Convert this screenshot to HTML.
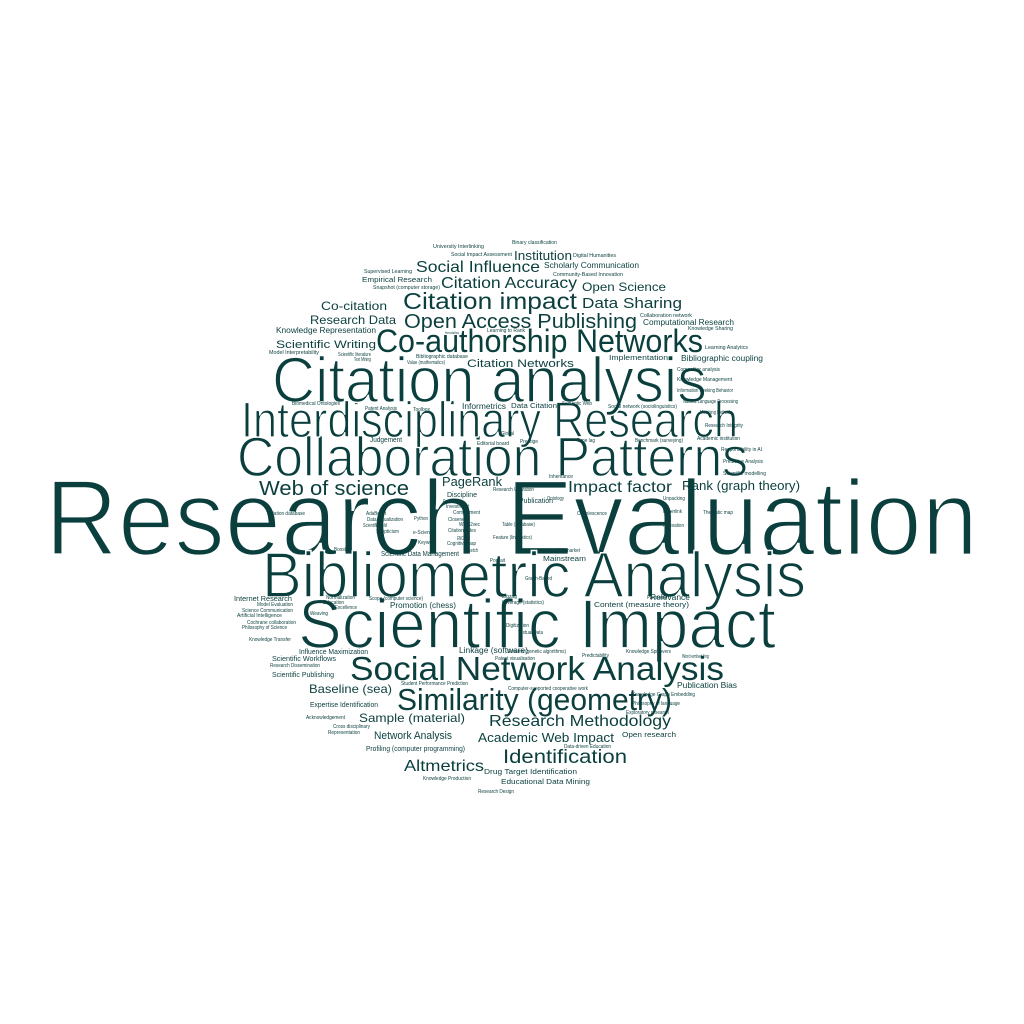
<!DOCTYPE html>
<html><head><meta charset="utf-8"><style>
html,body{margin:0;padding:0;background:#fff;}
svg{display:block;}
text{font-family:"Liberation Sans",sans-serif;fill:#0b3f3e;}
</style></head><body>
<svg id="cloud" width="1024" height="1024" viewBox="0 0 1024 1024"></svg>
<script>
const words = [
["Research Evaluation",45,555,108,933],
["Scientific Impact",298,648,70,478],
["Bibliometric Analysis",262,597,64,544],
["Collaboration Patterns",237,476,56,511],
["Interdisciplinary Research",241,437,50,497],
["Citation analysis",272,402,64,435],
["Co-authorship Networks",376,352,32,327],
["Social Network Analysis",350,680,33,374],
["Similarity (geometry)",397,710,31,275],
["Web of science",259,495,20,150],
["Impact factor",568,492,16,104],
["Rank (graph theory)",682,490,13,118],
["PageRank",442,486,13,60],
["Citation impact",403,309,23,174],
["Open Access Publishing",404,328,20,233],
["Citation Accuracy",441,288,16,136],
["Social Influence",416,272,16,124],
["Institution",514,260,13,58],
["Scholarly Communication",544,268,8,95],
["Open Science",582,291,12,84],
["Data Sharing",582,308,15,100],
["Co-citation",321,310,12,66],
["Research Data",310,324,12,86],
["Knowledge Representation",276,333,8,100],
["Scientific Writing",276,348,11,100],
["Computational Research",643,325,8,91],
["Citation Networks",467,367,11,107],
["Implementation",609,360,7.5,59],
["Bibliographic coupling",681,361,8,82],
["Empirical Research",362,282,7.5,70],
["Informetrics",462,409,8,44],
["Data Citation",511,408,7,46],
["Judgement",370,442,7,32],
["Discipline",447,497,7,30],
["Publication",519,503,7,34],
["Scientific Data Management",381,556,7,78],
["Mainstream",543,561,7,43],
["Internet Research",234,601,7,58],
["Relevance",650,600,8,40],
["Promotion (chess)",390,608,8,66],
["Content (measure theory)",594,607,7.5,95],
["Influence Maximization",299,654,7,69],
["Linkage (software)",459,653,8,69],
["Scientific Workflows",272,661,7.5,64],
["Scientific Publishing",272,677,7,62],
["Baseline (sea)",309,693,12,83],
["Publication Bias",677,688,8,60],
["Expertise Identification",310,707,7,68],
["Sample (material)",359,722,12,106],
["Research Methodology",489,726,16,182],
["Network Analysis",374,739,11,78],
["Academic Web Impact",478,742,13,136],
["Open research",622,737,7.5,54],
["Profiling (computer programming)",366,751,7.5,99],
["Identification",503,763,19,124],
["Altmetrics",404,771,16,80],
["Drug Target Identification",484,774,7.5,93],
["Educational Data Mining",501,784,7.5,89],
["University Interlinking",433,248,5,51],
["Binary classification",512,244,5,45],
["Social Impact Assessment",451,256,5,61],
["Digital Humanities",573,257,5,43],
["Supervised Learning",364,273,5,48],
["Community-Based Innovation",553,276,5,70],
["Snapshot (computer storage)",373,289,5,67],
["Collaboration network",640,317,5,52],
["Knowledge Sharing",688,330,5,45],
["Heuristics",445,334,4,14],
["Learning to Rank",487,332,5,38],
["Model Interpretability",269,354,5,50],
["Scientific literature",338,356,5,33],
["Text Mining",354,361,5,17],
["Bibliographic database",416,358,5,52],
["Value (mathematics)",407,364,5,38],
["Learning Analytics",705,349,5,43],
["Competitor analysis",677,371,5,43],
["Knowledge Management",677,381,5,55],
["Information Seeking Behavior",677,392,5,56],
["Natural Language Processing",683,403,5,55],
["Matching Methods",700,414,5,32],
["Research Integrity",705,427,5,38],
["Academic institution",697,440,5,43],
["Responsibility in AI",721,451,5,41],
["Predictive Analysis",723,463,5,40],
["Scientific modelling",723,475,5,43],
["Biomedical Ontologies",292,405,5,48],
["Patent Analysis",365,410,5,32],
["Toolbox",413,411,5,17],
["Semantic Web",562,405,5,30],
["Social network (sociolinguistics)",608,408,5,69],
["Global",501,435,5,13],
["Editorial board",477,445,5,32],
["Prestige",520,443,5,18],
["Time lag",577,442,5,18],
["Benchmark (surveying)",635,442,5,48],
["Inheritance",549,478,5,24],
["Research Utilization",493,491,5,41],
["Realm",443,503,5,10],
["Investment",446,508,5,23],
["Complement",453,514,5,27],
["Citation database",268,515,5,37],
["AdaBoost",366,515,5,20],
["Data Visualization",367,521,5,36],
["Scientific field",363,527,5,24],
["Skepticism",376,533,5,23],
["Python",414,520,5,14],
["Closeness",448,521,5,21],
["Word2vec",459,526,5,21],
["e-Science",413,534,5,22],
["Citation index",448,532,5,28],
["ENCODE",457,540,5,13],
["Keyword",418,544,5,18],
["Cognitive map",447,545,5,29],
["Table (database)",502,526,5,33],
["Feature (linguistics)",493,539,5,39],
["Ontology",547,500,5,17],
["Obsolescence",577,515,5,30],
["Unpacking",663,500,5,22],
["Hyperlink",663,513,5,19],
["Thematic map",703,514,5,30],
["Indexation",663,527,5,21],
["Boosting",334,551,5,18],
["Sketch",466,552,5,12],
["Job market",557,552,5,23],
["Portrait",490,562,5,15],
["Graph-Based",525,580,5,27],
["Normalization",326,599,5,29],
["Education",323,604,5,21],
["Excellence",335,609,5,22],
["Scope (computer science)",369,600,5,54],
["Model Evaluation",257,606,5,36],
["Science Communication",242,612,5,51],
["Artificial Intelligence",237,617,5,45],
["Weaving",310,615,5,18],
["Cochrane collaboration",247,624,5,49],
["Philosophy of Science",242,629,5,45],
["Knowledge Transfer",249,641,5,42],
["Zigzag",502,598,5,15],
["Leverage (statistics)",502,604,5,42],
["Panorama",647,599,5,20],
["Digitization",506,627,5,23],
["Textual Data",518,634,5,25],
["Schema (genetic algorithms)",507,653,5,59],
["Predictability",582,657,5,27],
["Knowledge Spillovers",626,653,5,45],
["Word embedding",682,658,5,27],
["Patent visualisation",495,660,5,40],
["Research Dissemination",270,667,5,50],
["Student Performance Prediction",401,685,5,67],
["Computer-supported cooperative work",508,690,5,80],
["Knowledge Graph Embedding",632,696,5,63],
["Philosophy of language",632,705,5,48],
["Exploratory research",626,714,5,43],
["Acknowledgement",306,719,5,39],
["Cross disciplinary",333,728,5,37],
["Representation",328,734,5,32],
["Data-driven Education",564,748,5,47],
["Knowledge Production",423,780,5,48],
["Research Design",478,793,5,36]
];
const svg = document.getElementById('cloud');
const NS = 'http://www.w3.org/2000/svg';
for (const w of words) {
  const t = document.createElementNS(NS, 'text');
  t.setAttribute('x', w[1]);
  t.setAttribute('y', w[2]);
  t.setAttribute('font-size', w[3]);
  t.setAttribute('textLength', w[4]);
  t.setAttribute('lengthAdjust', 'spacingAndGlyphs');
  if (w[3] >= 40) {
    t.setAttribute('stroke', '#ffffff');
    t.setAttribute('stroke-width', (w[3] * 0.025).toFixed(2));
  }
  t.textContent = w[0];
  
  
  svg.appendChild(t);
}
</script>
</body></html>
